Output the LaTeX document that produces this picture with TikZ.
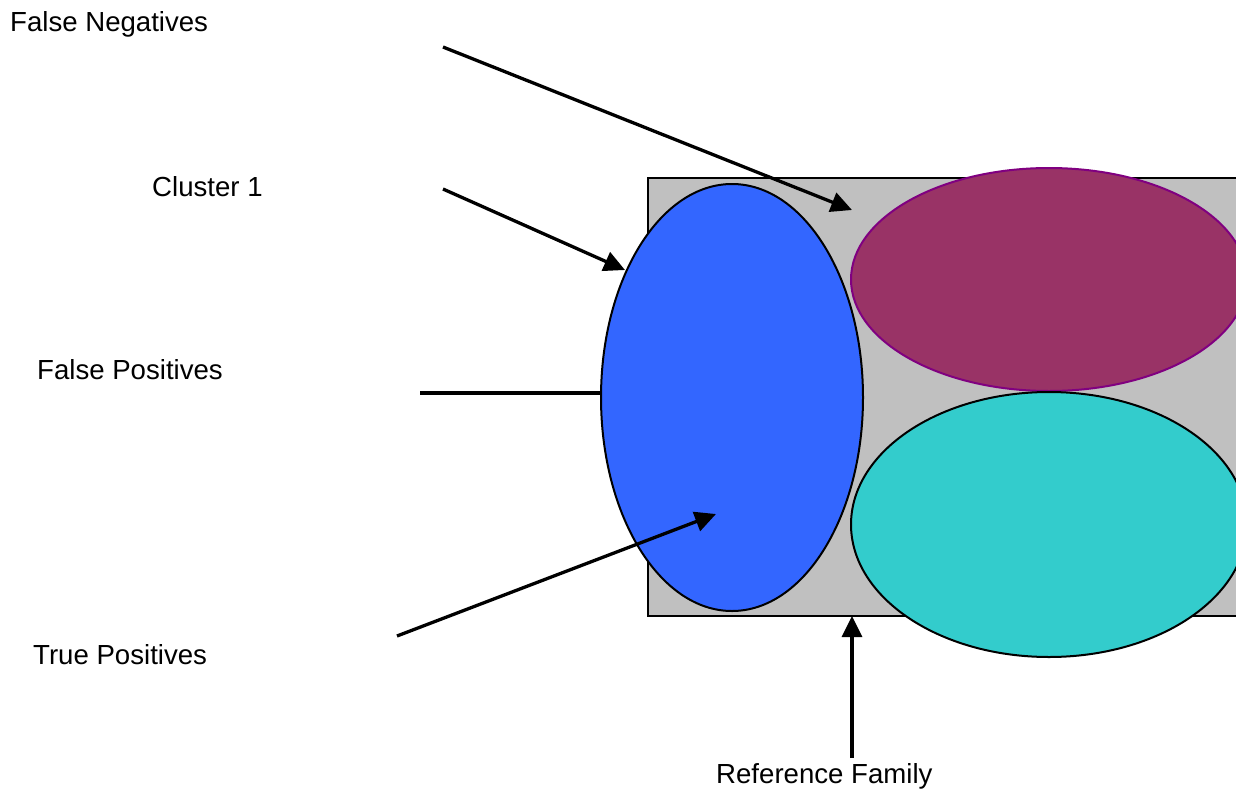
\documentclass[tikz,border=0pt]{standalone}
\usepackage{fontspec}
\setmainfont{Liberation Sans}
\usetikzlibrary{shapes.geometric,arrows.meta}
\definecolor{famgray}{HTML}{C0C0C0}
\definecolor{clublue}{HTML}{3366FF}
\definecolor{fampurple}{HTML}{993366}
\definecolor{purpleedge}{HTML}{800080}
\definecolor{famcyan}{HTML}{33CCCC}
\tikzset{
  lbl/.style={anchor=west, inner sep=0pt, font=\fontsize{27.6}{33}\selectfont},
  blob/.style={ellipse, draw, line width=2pt, inner sep=0pt},
  ptr/.style={line width=3.3pt, -{Triangle[length=21pt,width=20pt]}},
}
\begin{document}
\begin{tikzpicture}[x=1pt,y=-1pt]
\useasboundingbox (0,0) rectangle (1236,790);
\clip (0,0) rectangle (1236,790);
% reference family box
\node[draw, line width=2pt, fill=famgray, minimum width=600pt, minimum height=438pt, inner sep=0pt, anchor=north west] (fam) at (647,177) {};
% ellipses
\node[blob, fill=clublue, minimum width=262pt, minimum height=427pt] (clu) at (732,397.5) {};
\node[blob, draw=purpleedge, fill=fampurple, minimum width=396pt, minimum height=223pt] (pur) at (1049,279.5) {};
\node[blob, fill=famcyan, minimum width=396pt, minimum height=265pt] (cya) at (1049,524.5) {};
% labels
\node[lbl] (fn) at (10,24) {False Negatives};
\node[lbl] (c1) at (152,187) {Cluster 1};
\node[lbl] (fp) at (37,370) {False Positives};
\node[lbl] (tp) at (33,655) {True Positives};
\node[lbl] (rf) at (716,776) {Reference Family};
% connector endpoints
\coordinate (fnS) at (443,47);
\coordinate (fnT) at (852,210);
\coordinate (c1S) at (443,189);
\coordinate (c1T) at (625,270);
\coordinate (fpS) at (420,393);
\coordinate (fpT) at (clu.west |- 0,393);
\coordinate (tpS) at (397,636);
\coordinate (tpT) at (716,514);
\coordinate (rfS) at (852,758);
\coordinate (rfT) at (852,616);
% connectors
\draw[ptr] (fnS) -- (fnT);
\draw[ptr] (c1S) -- (c1T);
\draw[line width=3.3pt] (fpS) -- (fpT);
\draw[ptr] (tpS) -- (tpT);
\draw[ptr] (rfS) -- (rfT);
\end{tikzpicture}
\end{document}
